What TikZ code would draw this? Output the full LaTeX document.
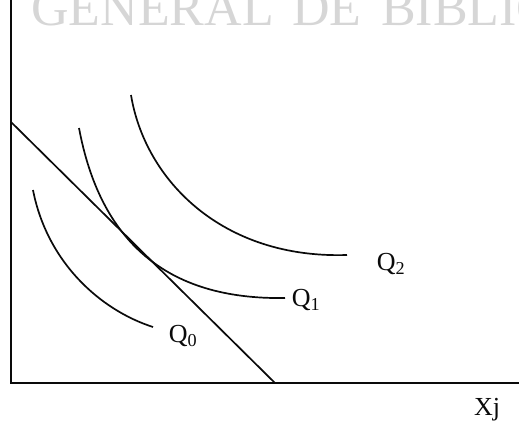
\documentclass[tikz,border=0pt]{standalone}
\usepackage{fontspec}
\setmainfont{Liberation Serif}
\usepackage{xcolor}
\definecolor{Stamp}{HTML}{D6D6D6}
\definecolor{Ink}{HTML}{0A0A0A}
\usetikzlibrary{positioning}

\begin{document}
\begin{tikzpicture}[
  x=1pt,y=-1pt,
  axis/.style={draw=Ink,line width=2pt},
  budget/.style={draw=Ink,line width=1.7pt},
  isoquant/.style={draw=Ink,line width=1.7pt},
  curvelabel/.style={font=\fontsize{26}{26}\selectfont,text=Ink,inner sep=0pt},
  stamp/.style={font=\fontsize{52}{52}\selectfont,text=Stamp,anchor=base west,inner sep=0pt}
]
\useasboundingbox (0,0) rectangle (519,426);
\clip (0,0) rectangle (519,426);
% watermark of the scan
\node[stamp] (wmA) at (31,25) {GENERAL};
\node[stamp] (wmB) at (292,25) {DE};
\node[stamp] (wmC) at (381,25) {BIBLIOTECAS};
% axes and budget line
\coordinate (origin) at (11,383);
\coordinate (ytop) at (11,-2);
\coordinate (xend) at (521,383);
\coordinate (bTop) at (11,122);
\coordinate (bFoot) at (275,383);
\draw[axis] (ytop) -- (origin) -- (xend);
\draw[budget] (bTop) -- (bFoot);
% isoquants
\draw[isoquant] (33,190) .. controls (47,262) and (100,310) .. (153,327);
\draw[isoquant] (79,128) .. controls (100,240) and (165,300) .. (285,298);
\draw[isoquant] (131,95) .. controls (145,180) and (222,259) .. (347,255);
% labels
\node[curvelabel] (qzero) at (183,336) {Q\textsubscript{0}};
\node[curvelabel] (qone) at (306,300) {Q\textsubscript{1}};
\node[curvelabel] (qtwo) at (391,264) {Q\textsubscript{2}};
\node[curvelabel] (xlab) at (487,410) {Xj};
\end{tikzpicture}
\end{document}
